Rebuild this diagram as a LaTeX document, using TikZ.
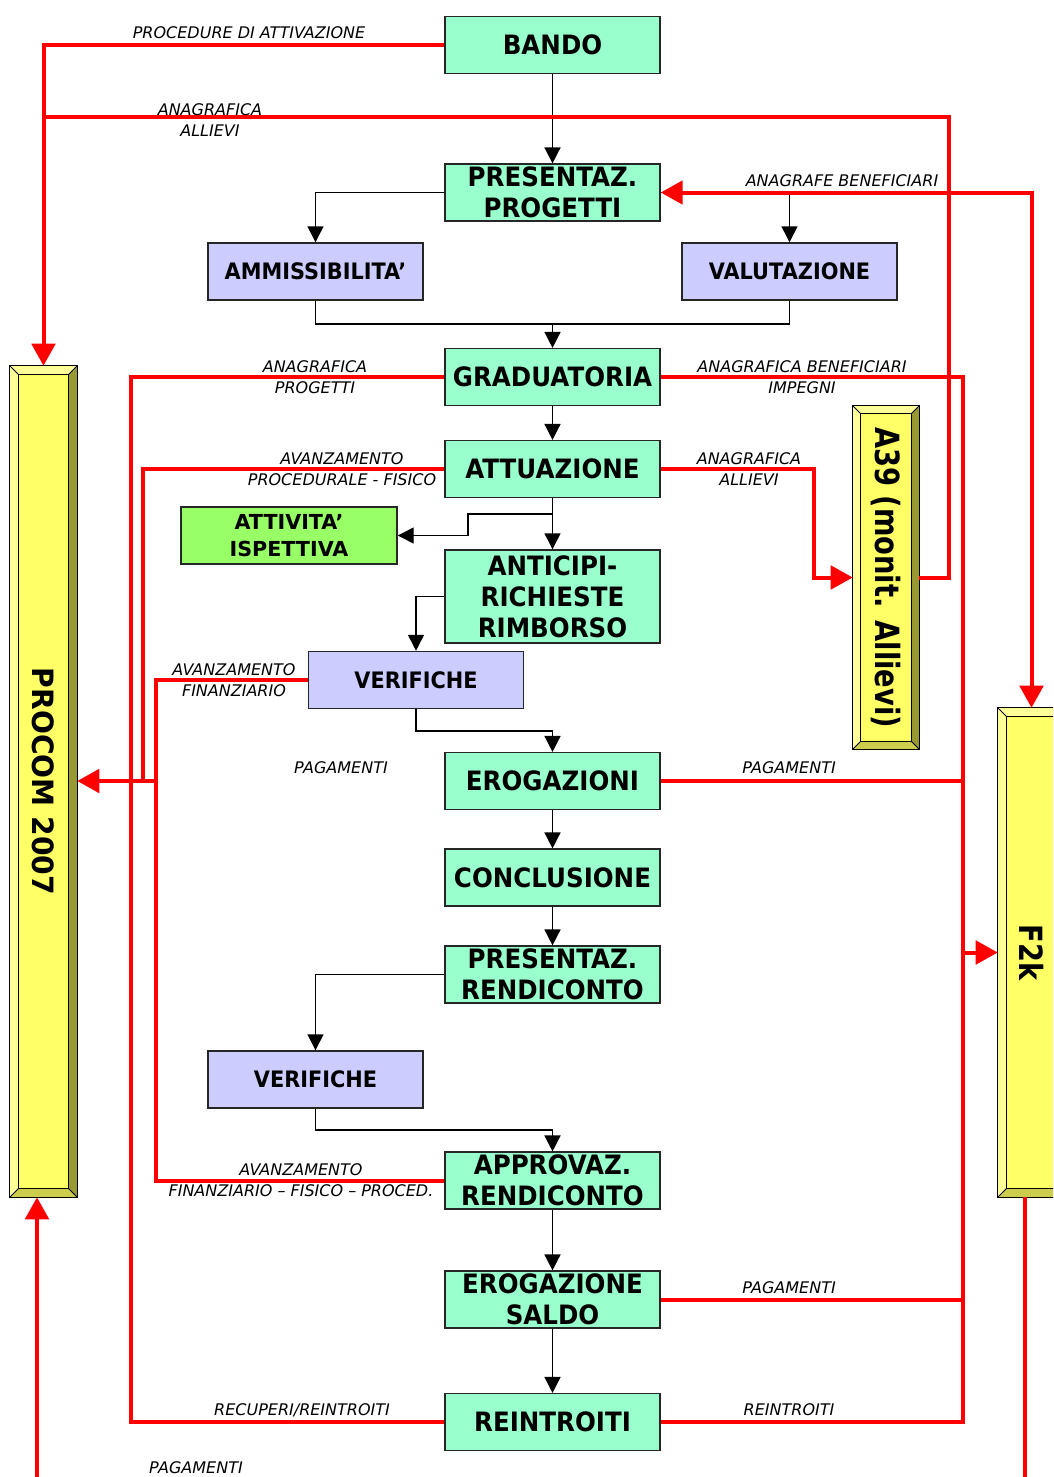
\documentclass[tikz,border=0pt]{standalone}
\usepackage{fontspec}
\setmainfont{DejaVu Sans}
\newfontfamily\boxfont{DejaVu Sans}[FakeStretch=0.92]
\newfontfamily\inspectfont{DejaVu Sans}
\newfontfamily\procomfont{DejaVu Sans}[FakeStretch=0.96]
\newfontfamily\afontnarrow{DejaVu Sans}[FakeStretch=0.82]
\newfontfamily\ffontnarrow{DejaVu Sans}[FakeStretch=0.85]
\newfontfamily\labelfont{DejaVu Sans}
\usetikzlibrary{arrows.meta,calc}

\definecolor{mint}{HTML}{99FFCC}
\definecolor{lavender}{HTML}{CCCCFF}
\definecolor{lime}{HTML}{99FF66}
\definecolor{barface}{HTML}{FFFF66}
\definecolor{barlight}{HTML}{FFFF99}
\definecolor{bardark}{HTML}{999933}
\definecolor{barmid}{HTML}{CCCC4D}
\definecolor{flowred}{HTML}{FF0000}

% bevelled bar drawn around an (invisible) node: #1 node name, #2 bevel size
\newcommand\bevelbar[2]{%
  \fill[barlight] (#1.north west) -- (#1.north east) -- ($(#1.north east)+(-#2,#2)$) -- ($(#1.north west)+(#2,#2)$) -- cycle;
  \fill[barlight] (#1.north west) -- ($(#1.north west)+(#2,#2)$) -- ($(#1.south west)+(#2,-#2)$) -- (#1.south west) -- cycle;
  \fill[bardark] (#1.north east) -- (#1.south east) -- ($(#1.south east)+(-#2,-#2)$) -- ($(#1.north east)+(-#2,#2)$) -- cycle;
  \fill[barmid] (#1.south west) -- (#1.south east) -- ($(#1.south east)+(-#2,-#2)$) -- ($(#1.south west)+(#2,-#2)$) -- cycle;
  \fill[barface] ($(#1.north west)+(#2,#2)$) rectangle ($(#1.south east)+(-#2,-#2)$);
  \draw[line width=0.9pt] (#1.north west) rectangle (#1.south east);
  \draw[line width=0.9pt] ($(#1.north west)+(#2,#2)$) rectangle ($(#1.south east)+(-#2,-#2)$);
  \draw[line width=0.7pt] (#1.north west) -- ($(#1.north west)+(#2,#2)$)
                          (#1.north east) -- ($(#1.north east)+(-#2,#2)$)
                          (#1.south west) -- ($(#1.south west)+(#2,-#2)$)
                          (#1.south east) -- ($(#1.south east)+(-#2,-#2)$);
}

\begin{document}
\begin{tikzpicture}[x=0.75pt,y=-0.75pt,
  every node/.style={inner sep=0pt},
  stepbox/.style={draw=black!85, line width=1.1pt, align=center,
    font=\boxfont\bfseries\fontsize{20}{23.25}\selectfont},
  mintbox/.style={stepbox, fill=mint, minimum width=161.25pt, minimum height=42.5pt},
  checkbox/.style={stepbox, fill=lavender, minimum width=161.25pt, minimum height=42.75pt,
    font=\boxfont\bfseries\fontsize{17}{21}\selectfont},
  inspectbox/.style={stepbox, fill=lime, minimum width=162pt, minimum height=42.75pt,
    font=\inspectfont\bfseries\fontsize{15.5}{20}\selectfont},
  bartext/.style={rotate=-90},
  flow/.style={draw=black, line width=1.1pt},
  flowarrow/.style={flow, -{Triangle[length=12pt,width=12pt]}},
  data/.style={draw=flowred, line width=3pt},
  redtip/.tip={Triangle[length=16.5pt,width=17.5pt,color=flowred]},
  dataarrow/.style={data, -redtip},
  lbl/.style={font=\labelfont\itshape\fontsize{12}{15.75}\selectfont, align=center},
]
\useasboundingbox (0,0) rectangle (1053,1477);
\clip (0,0) rectangle (1053,1477);

% side registers
\node[minimum width=50.25pt, minimum height=623.25pt] (procom) at (43.5,781.5) {};
\node[minimum width=49.5pt, minimum height=257.25pt] (a39) at (886,577.5) {};
\node[minimum width=50.25pt, minimum height=366.75pt] (f2k) at (1031.5,952.5) {};
\bevelbar{procom}{9}
\bevelbar{a39}{8}
\bevelbar{f2k}{9}
\node[bartext, font=\procomfont\bfseries\fontsize{22}{26}\selectfont] at (procom.center) {PROCOM 2007};
\node[bartext, font=\afontnarrow\bfseries\fontsize{25}{30}\selectfont] at (a39.center) {A39 (monit. Allievi)};
\node[bartext, font=\ffontnarrow\bfseries\fontsize{24}{28}\selectfont] at (f2k.center) {F2k};

% process steps
\node[mintbox] (bando) at (552.5,45) {BANDO};
\node[mintbox] (presp) at (552.5,192.5) {PRESENTAZ.\\PROGETTI};
\node[checkbox] (ammis) at (315.5,271.5) {AMMISSIBILITA’};
\node[checkbox] (valut) at (789.5,271.5) {VALUTAZIONE};
\node[mintbox] (grad) at (552.5,377) {GRADUATORIA};
\node[mintbox] (attu) at (552.5,469) {ATTUAZIONE};
\node[inspectbox] (ispett) at (289,535.5) {ATTIVITA’\\ISPETTIVA};
\node[mintbox, minimum height=69.75pt] (antic) at (552.5,596.5) {ANTICIPI-\\RICHIESTE\\RIMBORSO};
\node[checkbox] (verif1) at (416,680) {VERIFICHE};
\node[mintbox] (erog) at (552.5,781) {EROGAZIONI};
\node[mintbox] (concl) at (552.5,877.5) {CONCLUSIONE};
\node[mintbox] (presr) at (552.5,974.5) {PRESENTAZ.\\RENDICONTO};
\node[checkbox] (verif2) at (315.5,1079.5) {VERIFICHE};
\node[mintbox] (appr) at (552.5,1180.5) {APPROVAZ.\\RENDICONTO};
\node[mintbox] (saldo) at (552.5,1299.5) {EROGAZIONE\\SALDO};
\node[mintbox] (reint) at (552.5,1422) {REINTROITI};

% process flow
\coordinate (mergeG) at (552.5,324);
\coordinate (splitI) at (552.5,514);
\draw[flowarrow] (bando) -- (presp);
\draw[flowarrow] (presp.west) -| (ammis.north);
\draw[flowarrow] (presp.east) -| (valut.north);
\draw[flow] (ammis.south) |- (mergeG);
\draw[flow] (valut.south) |- (mergeG);
\draw[flowarrow] (mergeG) -- (grad.north);
\draw[flowarrow] (grad) -- (attu);
\draw[flowarrow] (attu) -- (antic);
\draw[flowarrow] (splitI) -- (468,514) -- (468,535.5) -- (ispett.east);
\draw[flowarrow] (antic.west) -| (verif1.north);
\draw[flowarrow] (verif1.south) -- (416,731) -- (552.5,731) -- (erog.north);
\draw[flowarrow] (erog) -- (concl);
\draw[flowarrow] (concl) -- (presr);
\draw[flowarrow] (presr.west) -| (verif2.north);
\draw[flowarrow] (verif2.south) -- (315.5,1130) -- (552.5,1130) -- (appr.north);
\draw[flowarrow] (appr) -- (saldo);
\draw[flowarrow] (saldo) -- (reint);

% data flows towards the registers
\coordinate (tapL) at (156,781);
\coordinate (tapR) at (963,952.5);
\draw[dataarrow] (bando.west) -| (procom.north);
\draw[data] (a39.east) -- (948.5,577.5) -- (948.5,117) -- (43.5,117);
\draw[data, redtip-redtip] (presp.east) -- (f2k.north |- presp.east) -- (f2k.north);
\draw[data] (grad.west) -- (131,377) -- (131,1422) -- (reint.west);
\draw[data] (attu.west) -- (143,469) -- (143,781);
\draw[data] (verif1.west) -- (156,680) -- (156,1180.5) -- (appr.west);
\draw[dataarrow] (tapL) -- (procom.east |- tapL);
\draw[data] (grad.east) -- (963,377) -- (963,1422) -- (reint.east);
\draw[data] (erog.east) -- (963,781);
\draw[data] (saldo.east) -- (963,1299.5);
\draw[dataarrow] (tapR) -- (f2k.west);
\draw[dataarrow] (attu.east) -- (814,469) |- (a39.west);
\draw[dataarrow] ($(f2k.south)+(-6.5,0)$) -- (1025,1500) -- (37,1500) -- ($(procom.south)+(-6.5,0)$);

% flow labels
\node[lbl] at (249,33) {PROCEDURE DI ATTIVAZIONE};
\node[lbl] at (210,120) {ANAGRAFICA\\ALLIEVI};
\node[lbl] at (842,181) {ANAGRAFE BENEFICIARI};
\node[lbl] at (315,377) {ANAGRAFICA\\PROGETTI};
\node[lbl] at (802,377) {ANAGRAFICA BENEFICIARI\\IMPEGNI};
\node[lbl] at (342,469.5) {AVANZAMENTO\\PROCEDURALE - FISICO};
\node[lbl] at (749,469.5) {ANAGRAFICA\\ALLIEVI};
\node[lbl] at (234,680.5) {AVANZAMENTO\\FINANZIARIO};
\node[lbl] at (341,768) {PAGAMENTI};
\node[lbl] at (789,768) {PAGAMENTI};
\node[lbl] at (301,1180.5) {AVANZAMENTO\\FINANZIARIO – FISICO – PROCED.};
\node[lbl] at (789,1288) {PAGAMENTI};
\node[lbl] at (302,1410) {RECUPERI/REINTROITI};
\node[lbl] at (789,1410) {REINTROITI};
\node[lbl] at (196,1468) {PAGAMENTI};
\end{tikzpicture}
\end{document}
